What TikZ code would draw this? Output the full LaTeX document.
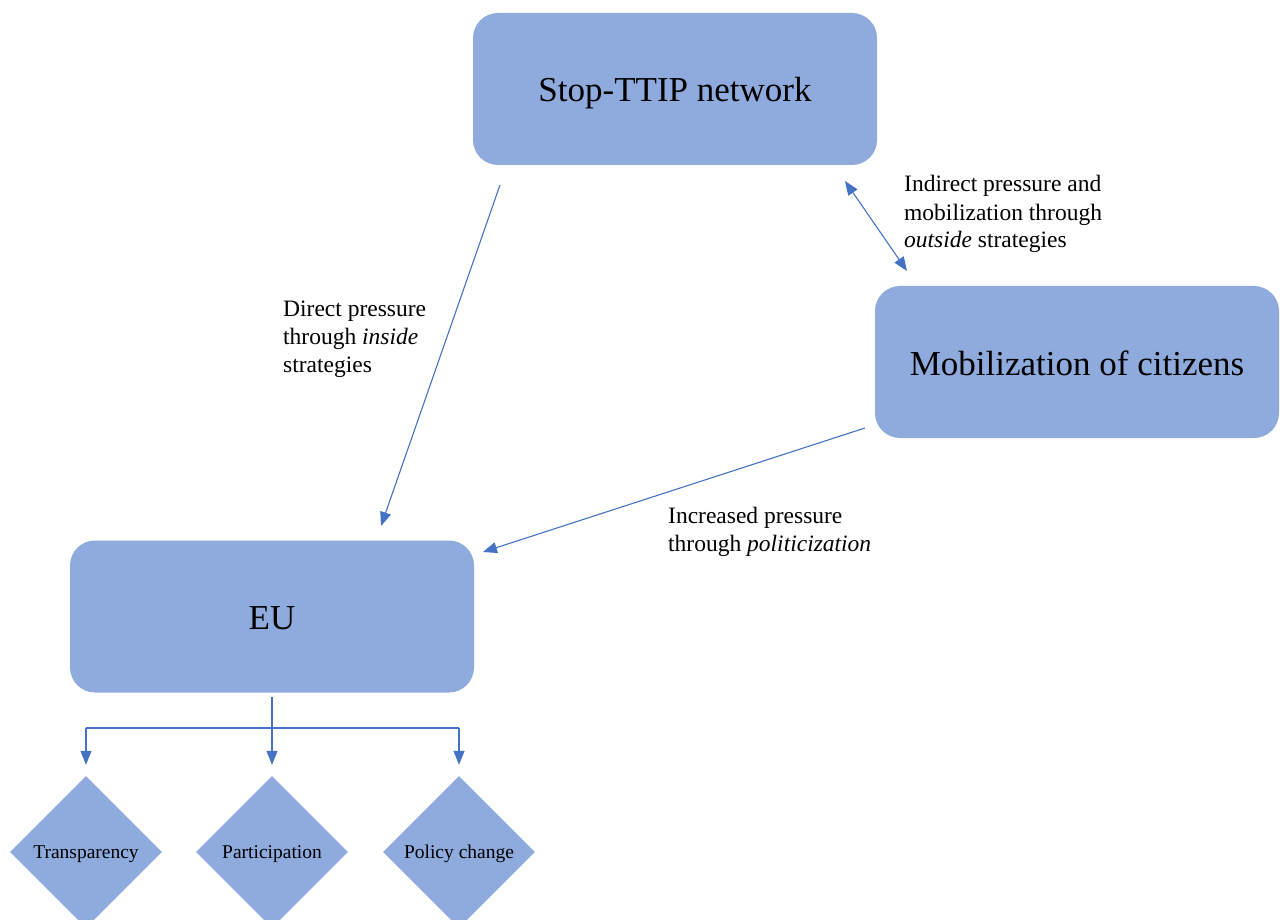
\documentclass[tikz,border=0pt]{standalone}
\usepackage{fontspec}
\setmainfont{Liberation Serif}
\usetikzlibrary{arrows.meta,shapes.geometric}
\definecolor{boxfill}{HTML}{8FAADC}
\definecolor{arrowblue}{HTML}{4472C4}
\begin{document}
\begin{tikzpicture}[x=1pt,y=-1pt,
 tip/.tip={Triangle[length=14pt,width=11pt]},
 box/.style={draw=none, fill=boxfill, rounded corners=25pt, minimum width=404pt, minimum height=152pt, inner sep=0pt, text height=26pt, text depth=0pt, font=\fontsize{35}{42}\selectfont},
 dia/.style={diamond, fill=boxfill, minimum width=152pt, minimum height=152pt, inner sep=0pt, text height=13.6pt, text depth=0pt, font=\fontsize{19.5}{23}\selectfont},
 conn/.style={draw=arrowblue, line width=1.1pt, -tip},
 line/.style={draw=arrowblue, line width=1.1pt},
 lbl/.style={align=left, inner sep=0pt, anchor=base west, font=\fontsize{23.5}{28}\selectfont}]
\useasboundingbox (0,0) rectangle (1283,920);
\node[box] (stop) at (675,89) {Stop-TTIP network};
\node[box] (mob) at (1077,362) {Mobilization of citizens};
\node[box] (eu) at (272,616.5) {EU};
\node[dia] (transp) at (86,852) {Transparency};
\node[dia] (partic) at (272,852) {Participation};
\node[dia] (policy) at (459,852) {Policy change};
% tree
\coordinate (euout) at (272,697);
\coordinate (split) at (272,728);
\coordinate (tl) at (86,728);
\coordinate (tr) at (459,728);
\draw[line] (euout) -- (split);
\draw[line] (tl) -- (tr);
\draw[conn, shorten >=11pt] (tl) -- (transp.north);
\draw[conn, shorten >=11pt] (split) -- (partic.north);
\draw[conn, shorten >=11pt] (tr) -- (policy.north);
% main arrows
\coordinate (a1s) at (500,185);
\coordinate (a1e) at (381,526);
\draw[conn] (a1s) -- (a1e);
\coordinate (a2s) at (865,428);
\coordinate (a2e) at (483,552);
\draw[conn] (a2s) -- (a2e);
\coordinate (a3s) at (845,181);
\coordinate (a3e) at (907,271);
\draw[conn, tip-tip] (a3s) -- (a3e);
% labels (base anchor = baseline of last line)
\node[lbl] (l1) at (283,372) {Direct pressure\\through \textit{inside}\\strategies};
\node[lbl] (l2) at (904,248) {Indirect pressure and\\mobilization through\\\textit{outside} strategies};
\node[lbl] (l3) at (668,551) {Increased pressure\\through \textit{politicization}};
\end{tikzpicture}
\end{document}
